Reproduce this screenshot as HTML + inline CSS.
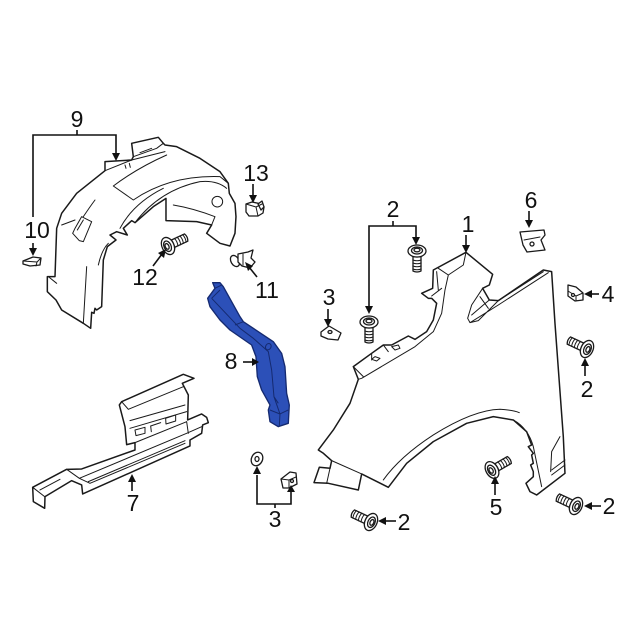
<!DOCTYPE html>
<html><head><meta charset="utf-8"><style>
html,body{margin:0;padding:0;background:#fff}
svg{display:block}
text{font-family:"Liberation Sans",sans-serif;font-size:23px;fill:#111;text-anchor:middle}
.p{fill:#fff;stroke:#1a1a1a;stroke-width:4.500;stroke-linejoin:round;stroke-linecap:round}
.n{fill:none;stroke:#1a1a1a;stroke-width:3;stroke-linejoin:round;stroke-linecap:round}
.a{fill:none;stroke:#111;stroke-width:1.6}
.h{fill:#111;stroke:none}
.bl{fill:#2c50b8;stroke:#152a70;stroke-width:4;stroke-linejoin:round}
.bn{fill:none;stroke:#152a70;stroke-width:3;stroke-linejoin:round}
.s{fill:#fff;stroke:#1a1a1a;stroke-width:1.300;stroke-linejoin:round}
</style></head><body>
<svg width="640" height="640" viewBox="0 0 640 640" xmlns="http://www.w3.org/2000/svg">
<defs>
<g id="bolt">
<path class="s" d="M3 -4L20 -4Q22 0 20 4L3 4Z"/>
<path class="n" style="stroke-width:1" d="M9 -4.200Q10.500 0 9 4.200M12 -4.200Q13.500 0 12 4.200M15 -4.200Q16.500 0 15 4.200M18 -4.200Q19.500 0 18 4.200"/>
<ellipse class="s" cx="3" cy="0" rx="3" ry="6.500"/>
<ellipse class="s" cx="0" cy="0" rx="6" ry="9"/>
<ellipse class="s" cx="-0.500" cy="0" rx="3.500" ry="5.500"/>
<ellipse class="s" cx="-1" cy="0" rx="1.800" ry="3"/>
</g>
</defs>

<!-- liner, item 9 -->
<g transform="translate(20,100) scale(0.3333)">
<path class="p" d="M110 385L125 340L170 280L255 212L255 185L335 180L340 170L335 130L415 112L430 130L435 135L470 140L540 175L600 215L625 250L628 280L645 310L648 350L645 400L630 438L600 430L560 400L575 375L530 365L438 362L438 295L400 320L345 368L335 362L310 385L322 405L290 395L270 405L288 420L262 440L250 480L245 620L230 630L225 625L222 640L215 637L212 685L190 670L125 630L108 600L82 575L82 530L105 530Z"/>
<path class="n" d="M255 212L335 180L435 155M340 170L410 145L430 130M280 258L340 300M280 258Q350 205 440 165M340 300Q450 225 600 230L625 250M345 368Q420 270 540 245Q590 240 620 265M300 385Q340 310 430 265M165 385L185 350L215 365L190 425L178 422L158 400ZM172 390L190 360M125 375L165 360M190 350Q210 320 225 300M200 500L190 670M235 495Q245 450 265 430M85 530L110 550M460 315Q520 325 585 350M585 350L575 375"/>
<circle class="n" cx="592" cy="305" r="16"/>
<path class="n" d="M315 195L318 205M328 190L331 202M360 158L395 145"/>
</g>

<!-- fender, item 1 -->
<g transform="translate(300,190) scale(0.3333)">
<path class="p" d="M498 187L578 253L568 285L548 295L568 330L595 332L730 240L755 245L765 400L790 740L795 850L710 915L690 905L678 880L700 860L700 845L692 825L700 820L695 795L700 790L685 770L695 765L680 725L640 690L580 680L500 700L400 755L320 820L265 892L185 852L175 900L85 880L42 878L58 832L90 835L95 812L70 790L55 780L100 720L150 640L175 568L160 530L215 490L250 465L275 465L325 438L345 448L380 425L400 390L410 340L395 325L385 325L365 310L398 295L400 240Z"/>
<path class="n" d="M498 187L490 225L445 255L415 235M445 255L435 300L425 370L400 425L345 470L185 565L175 568M410 245L415 300M425 295L395 318M160 530L190 560M215 490L215 510M250 465L265 485M225 500L240 505L230 513L215 508ZM275 470L295 465L300 475L285 480ZM548 295L515 345L503 385L510 398L535 392L595 332L730 245M515 375L550 345L568 330M510 398L595 345L745 248M540 320L565 355M250 870Q300 800 400 735Q520 660 600 658Q640 660 658 668M640 690Q685 715 700 770L725 890M95 812L185 852M70 790L95 812M90 835L80 880M755 840L795 810M780 740L755 785L752 845M755 855L795 825"/>
</g>

<!-- blue item 8 -->
<g transform="translate(20,270) scale(0.3333)">
<path class="bl" d="M578 38L600 38L610 50L660 140L670 155L760 215L785 250L795 290L800 370L808 405L805 460L775 470L750 455L745 420L750 405L725 360L712 320L708 260L695 225L630 180L600 150L570 110L563 85L585 55Z"/>
<path class="bn" d="M585 55L605 45M575 85L660 175M575 85L600 60M645 165L670 155M660 175L700 205L745 245L755 300L762 380L780 432L750 420M780 432L805 420M780 432L778 468M762 380L775 400"/>
<ellipse class="bn" cx="745" cy="230" rx="8" ry="10" transform="rotate(30 745 230)"/>
</g>

<!-- item 7 -->
<g transform="translate(20,270) scale(0.3333)">
<path class="p" d="M38 652L140 598L185 597L345 540L345 518L320 524L315 470L298 405L305 395L490 313L522 325L487 340L505 375L503 450L545 432L560 442L565 458L548 465L545 490L510 510L510 528L188 672L185 645L155 632L75 680L74 715L40 695Z"/>
<path class="n" d="M140 598L178 625L500 490L545 470M178 625L210 640L495 520M205 635L495 512M60 660L120 628M38 652L74 680M305 395L325 418L490 350M330 452L495 405M330 475L500 425M345 518L500 455M500 455L505 490M345 480L375 472L375 490L348 497ZM392 468L422 458M392 468L394 485M437 445L467 435L467 453L438 462Z"/>
</g>

<!-- small parts -->
<g>
<!-- 10 -->
<path class="s" d="M23 261L33 257L41 258L40 265L30 266L23 264Z"/>
<path class="n" style="stroke-width:1" d="M23 261L37 262L41 258M37 262L36 266"/>
<!-- 13 -->
<path class="s" d="M246 204L252 202L262 204L264 207L263 213L258 216L249 216L246 212Z"/>
<path class="s" d="M258 204L262 201L264 207L261 210Z"/>
<path class="n" style="stroke-width:1" d="M246 204L256 207L258 216M256 207L262 204"/>
<!-- 11 clip -->
<ellipse class="s" cx="235" cy="261" rx="4" ry="6" transform="rotate(-30 235 261)"/>
<path class="s" d="M238 254L248 252L253 250L251 258L255 262L250 268L242 266L238 262Z"/>
<path class="n" style="stroke-width:1" d="M243 254L243 265"/>
<!-- 3 nut upper -->
<path class="s" d="M321 332L329 326L341 333L338 340L328 339L321 336Z"/>
<ellipse class="s" cx="330" cy="332" rx="2" ry="1.500"/>
<!-- 6 -->
<path class="s" d="M520 232L544 230L545 235L541 240L545 250L527 252L523 245Z"/>
<path class="n" style="stroke-width:1" d="M524 240L540 237"/>
<circle class="s" cx="532" cy="244" r="2"/>
<!-- 4 -->
<path class="s" d="M568 285L576 287L583 293L583 300L575 301L568 296Z"/>
<path class="n" style="stroke-width:1" d="M568 291L576 296L576 301M576 296L583 293"/>
<circle class="s" cx="573" cy="295" r="1.500"/>
<!-- washer 3 -->
<ellipse class="s" cx="257" cy="459" rx="5.500" ry="7" transform="rotate(25 257 459)"/>
<ellipse class="s" cx="257" cy="459" rx="2" ry="2.500"/>
<!-- nut 3 lower -->
<path class="s" d="M281 479L290 472L296 473L297 484L289 488L283 488Z"/>
<path class="n" style="stroke-width:1" d="M281 479L289 480L289 488M289 480L296 477"/>
<circle class="s" cx="292" cy="481" r="1.500"/>

<use href="#bolt" transform="translate(168,246) rotate(-25)"/>
<use href="#bolt" transform="translate(417,251) rotate(90)"/>
<use href="#bolt" transform="translate(369,322) rotate(90)"/>
<use href="#bolt" transform="translate(587,349) rotate(205)"/>
<use href="#bolt" transform="translate(576,506) rotate(205)"/>
<use href="#bolt" transform="translate(371,522) rotate(205)"/>
<use href="#bolt" transform="translate(492,470) rotate(-30)"/>
</g>

<!-- connectors -->
<path class="a" d="M77 130V135M33 217V135H116V155"/>
<path class="h" d="M116 161L112 153H120Z"/>
<path class="a" d="M33 243V250"/><path class="h" d="M33 256L29 248H37Z"/>
<path class="a" d="M253 184V198"/><path class="h" d="M253 203L249 195H257Z"/>
<path class="a" d="M153 266L162 254"/><path class="h" d="M166 249L164 258L158 253Z"/>
<path class="a" d="M257 277L249 267"/><path class="h" d="M245 262L253 266L248 271Z"/>
<path class="a" d="M243 362H254"/><path class="h" d="M259 362L252 358V366Z"/>
<path class="a" d="M132 491V480"/><path class="h" d="M132 474L128 482H136Z"/>
<path class="a" d="M257 475V504H291V490M275 504V508"/>
<path class="h" d="M257 466L253 474H261ZM291 485L287 492H295Z"/>
<path class="a" d="M393 221V226M369 311V226H416V240"/>
<path class="h" d="M416 245L412 237H420ZM369 314L365 306H373Z"/>
<path class="a" d="M466 235V248"/><path class="h" d="M466 253L462 245H470Z"/>
<path class="a" d="M529 211V222"/><path class="h" d="M529 228L525 220H533Z"/>
<path class="a" d="M328 309V322"/><path class="h" d="M328 327L324 319H332Z"/>
<path class="a" d="M599 294H590"/><path class="h" d="M584 294L592 290V298Z"/>
<path class="a" d="M585 376V365"/><path class="h" d="M585 358L581 366H589Z"/>
<path class="a" d="M601 506H590"/><path class="h" d="M584 506L592 502V510Z"/>
<path class="a" d="M495 495V482"/><path class="h" d="M495 476L491 484H499Z"/>
<path class="a" d="M396 521H385"/><path class="h" d="M378 521L386 517V525Z"/>

<!-- labels -->
<text x="77" y="127">9</text>
<text x="37" y="238">10</text>
<text x="256" y="181">13</text>
<text x="145" y="285">12</text>
<text x="267" y="298">11</text>
<text x="231" y="369">8</text>
<text x="133" y="511">7</text>
<text x="275" y="527">3</text>
<text x="393" y="217">2</text>
<text x="468" y="232">1</text>
<text x="531" y="208">6</text>
<text x="329" y="305">3</text>
<text x="608" y="302">4</text>
<text x="587" y="397">2</text>
<text x="609" y="514">2</text>
<text x="496" y="515">5</text>
<text x="404" y="530">2</text>
</svg>
</body></html>
